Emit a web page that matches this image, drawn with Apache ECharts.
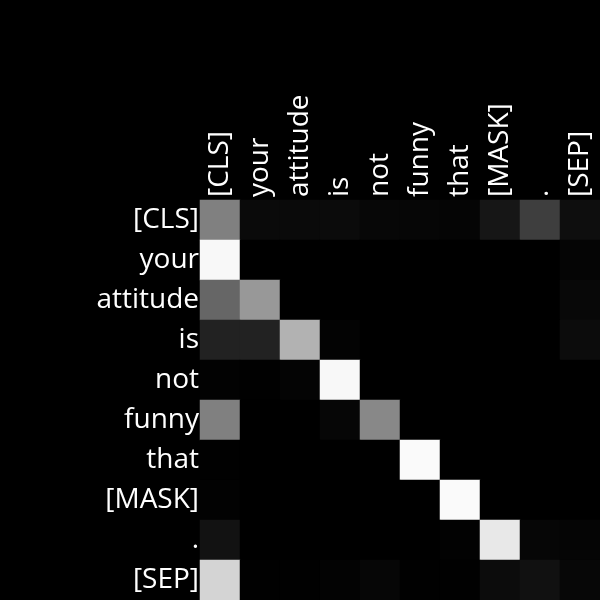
<!DOCTYPE html>
<html><head><meta charset="utf-8">
<script src="https://cdn.jsdelivr.net/npm/echarts@6/dist/echarts.min.js"></script>
<style>html,body{margin:0;padding:0;background:#000}#c{width:600px;height:600px}</style>
</head><body><div id="c"></div>
<script>
const tokens = ['[CLS]','your','attitude','is','not','funny','that','[MASK]','.','[SEP]'];
// attention weights, rows = query tokens (y), cols = key tokens (x)
const row0 = [0.50,0.04,0.04,0.043,0.027,0.024,0.02,0.086,0.243,0.055];
const row1 = [0.973,0,0,0,0,0,0,0,0,0.02];
const row2 = [0.40,0.596,0,0,0,0,0,0,0,0.03];
const row3 = [0.133,0.133,0.698,0.012,0,0,0,0,0,0.047];
const row4 = [0.008,0.004,0.016,0.973,0,0,0,0,0,0];
const row5 = [0.50,0,0,0.024,0.533,0,0,0,0,0];
const row6 = [0.004,0,0,0,0,0.98,0,0,0,0];
const row7 = [0.008,0,0,0,0,0,0.98,0,0,0];
const row8 = [0.07,0,0,0,0,0,0.008,0.91,0.024,0.02];
const row9 = [0.83,0.004,0.004,0.012,0.024,0.004,0.004,0.047,0.067,0.027];
const rows = [row0,row1,row2,row3,row4,row5,row6,row7,row8,row9];

const data = [];
rows.forEach((r, yi) => r.forEach((v, xi) => data.push([xi, yi, v])));

const chart = echarts.init(document.getElementById('c'));
const font = 'Open Sans';
chart.setOption({
  backgroundColor: '#000000',
  animation: false,
  grid: {left: 200, top: 200, right: 0, bottom: 0},
  xAxis: {
    type: 'category', data: tokens, position: 'top',
    axisLine: {show: false}, axisTick: {show: false}, splitLine: {show: false},
    axisLabel: {rotate: -90, color: '#ffffff', fontSize: 28, fontFamily: font, margin: 3, interval: 0}
  },
  yAxis: {
    type: 'category', data: tokens, inverse: true,
    axisLine: {show: false}, axisTick: {show: false}, splitLine: {show: false},
    axisLabel: {color: '#ffffff', fontSize: 28, fontFamily: font, margin: 1, interval: 0}
  },
  visualMap: {show: false, min: 0, max: 1, inRange: {color: ['#000000', '#ffffff']}},
  series: [{type: 'heatmap', data: data, itemStyle: {borderWidth: 0}, emphasis: {disabled: true}}]
});
</script></body></html>
